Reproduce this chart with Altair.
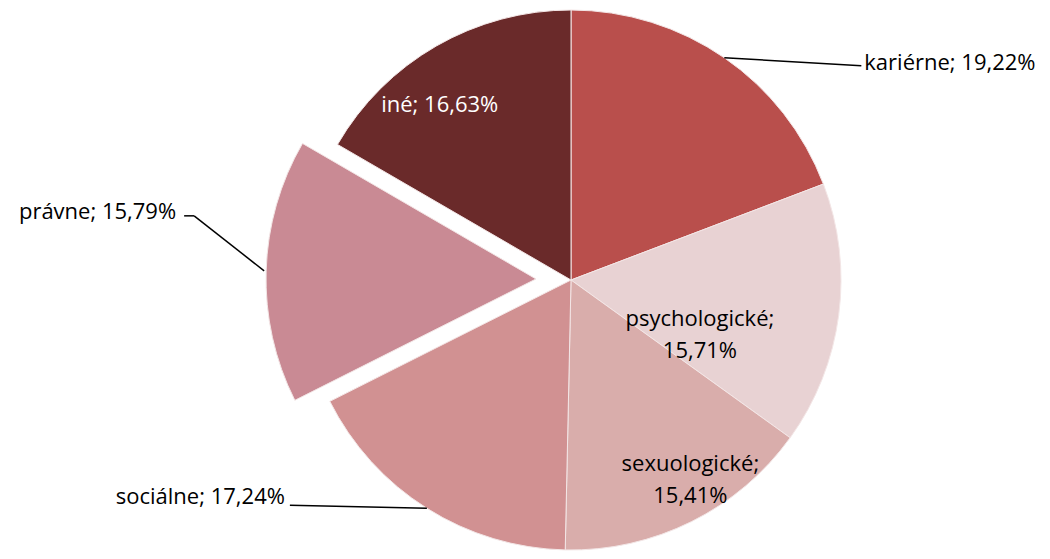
import math
import altair as alt
import pandas as pd

# ---- data ----
categories = ["kariérne", "psychologické", "sexuologické", "sociálne", "právne", "iné"]
values = [19.22, 15.71, 15.41, 17.24, 15.79, 16.63]
exploded = "právne"

# ---- style / layout ----
colors = ["#b94f4c", "#e8d2d3", "#d9adab", "#d19192", "#c98a94", "#6a2a2a"]
W, H = 1034, 543
CX, CY, R = 563, 272, 270
EXPLODE = 35
FONT = "Open Sans"
FS = 22
LH = 32

total = sum(values)
mids = {}
acc = 0.0
for c, v in zip(categories, values):
    mids[c] = (acc + v / 2) / total * 2 * math.pi
    acc += v


def polar(ang, r, cx=CX, cy=CY):
    return cx + r * math.sin(ang), cy - r * math.cos(ang)


def fmt(v):
    return f"{v:.2f}".replace(".", ",") + "%"


ex_x, ex_y = polar(mids[exploded], EXPLODE)

pie_df = pd.DataFrame({"cat": categories, "value": values, "idx": range(len(categories))})

base = alt.Chart(pie_df)
theta = alt.Theta("value:Q", stack=True)
order = alt.Order("idx:Q")
color = alt.Color("cat:N", scale=alt.Scale(domain=categories, range=colors), legend=None)

pie = base.mark_arc(radius=R, stroke="#f3e6e6", strokeWidth=1).encode(
    theta=theta, order=order, color=color,
    x=alt.value(CX), y=alt.value(CY),
    opacity=alt.condition(alt.datum.cat == exploded, alt.value(0), alt.value(1)),
)
pie_ex = base.mark_arc(radius=R, stroke="#f3e6e6", strokeWidth=1).encode(
    theta=theta, order=order, color=color,
    x=alt.value(ex_x), y=alt.value(ex_y),
    opacity=alt.condition(alt.datum.cat == exploded, alt.value(1), alt.value(0)),
)

# inside labels: (angle shift deg, radius, text colour, two lines)
inside_layout = {
    "psychologické": (15.5, 140, "black", True),
    "sexuologické": (-4.3, 233, "black", True),
    "iné": (-6.9, 219, "white", False),
}
rows_in1, rows_in2 = [], []
for c, v in zip(categories, values):
    if c in inside_layout:
        dth, rr, col, two = inside_layout[c]
        x, y = polar(mids[c] + math.radians(dth), rr)
        if two:
            rows_in2.append({"x": x, "y": y, "t": f"{c};\n{fmt(v)}", "col": col})
        else:
            rows_in1.append({"x": x, "y": y, "t": f"{c}; {fmt(v)}", "col": col})

# outside labels: text offset from edge point, line end offsets
outside_layout = {
    "kariérne": {"text": (140, 5), "line": [(137, 8)], "align": "left"},
    "právne": {"text": (-88, -59), "line": [(-70, -55), (-80, -55)], "align": "right"},
    "sociálne": {"text": (-142, -11), "line": [(-137, -3)], "align": "right"},
}
rows_out, segs = [], []
for c, v in zip(categories, values):
    if c in outside_layout:
        lay = outside_layout[c]
        if c == exploded:
            ex, ey = polar(mids[c], R + 2, ex_x, ex_y)
        else:
            ex, ey = polar(mids[c], R, CX, CY)
        pts = [(ex, ey)] + [(ex + dx, ey + dy) for dx, dy in lay["line"]]
        for (x1, y1), (x2, y2) in zip(pts[:-1], pts[1:]):
            segs.append({"x": x1, "y": y1, "x2": x2, "y2": y2})
        rows_out.append({"x": ex + lay["text"][0], "y": ey + lay["text"][1],
                         "t": f"{c}; {fmt(v)}", "align": lay["align"]})
out_df = pd.DataFrame(rows_out)
seg_df = pd.DataFrame(segs)

X = lambda f: alt.X(f, type="quantitative", scale=None, axis=None)
Y = lambda f: alt.Y(f, type="quantitative", scale=None, axis=None)

lines = alt.Chart(seg_df).mark_rule(color="black", strokeWidth=1.5).encode(
    x=X("x"), y=Y("y"), x2="x2", y2="y2"
)
txt_in2 = alt.Chart(pd.DataFrame(rows_in2)).mark_text(
    font=FONT, fontSize=FS, lineBreak="\n", lineHeight=LH, dy=-LH / 2,
    align="center", baseline="middle").encode(
    x=X("x"), y=Y("y"), text="t:N", color=alt.Color("col:N", scale=None)
)
txt_in1 = alt.Chart(pd.DataFrame(rows_in1)).mark_text(
    font=FONT, fontSize=FS, align="center", baseline="middle").encode(
    x=X("x"), y=Y("y"), text="t:N", color=alt.Color("col:N", scale=None)
)
txt_left = alt.Chart(out_df[out_df["align"] == "left"]).mark_text(
    font=FONT, fontSize=FS, align="left", baseline="middle", color="black").encode(
    x=X("x"), y=Y("y"), text="t:N")
txt_right = alt.Chart(out_df[out_df["align"] == "right"]).mark_text(
    font=FONT, fontSize=FS, align="right", baseline="middle", color="black").encode(
    x=X("x"), y=Y("y"), text="t:N")

chart = alt.layer(pie, pie_ex, lines, txt_in2, txt_in1, txt_left, txt_right).properties(
    width=W, height=H, padding=0, autosize="none"
).configure_view(stroke=None)

chart.save("out.html", embed_options={"renderer": "svg", "actions": False})
